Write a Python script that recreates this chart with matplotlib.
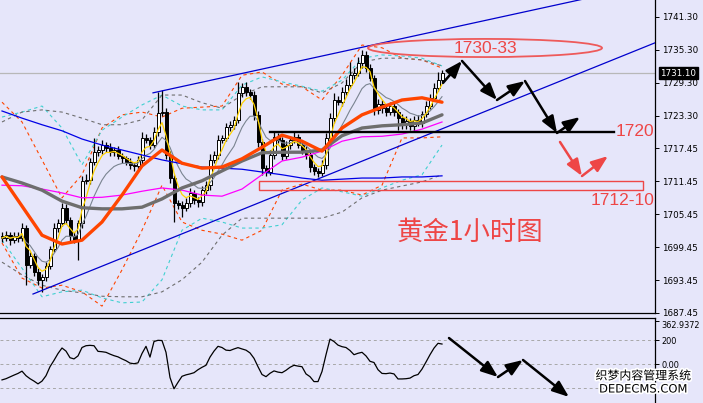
import matplotlib
matplotlib.use("Agg")
import matplotlib.pyplot as plt
import matplotlib.patches as mpatches
import matplotlib.patheffects as pe
import matplotlib.transforms as mtransforms
import numpy as np
import pandas as pd

plt.rcParams['font.family'] = ['DejaVu Sans', 'Noto Sans CJK SC']

# ---------------- data ----------------
first_open = 1701.5
close = [1701.1, 1701.6, 1700.7, 1701.5, 1701.1, 1702.9, 1696.2, 1697.8, 1694.9, 1693.5,
         1694.0, 1696.0, 1699.1, 1702.9, 1703.8, 1706.6, 1704.4, 1701.5, 1700.7, 1703.8,
         1711.5, 1711.6, 1714.9, 1716.7, 1717.1, 1718.0, 1717.5, 1716.7, 1717.1, 1716.0,
         1715.6, 1714.9, 1714.4, 1714.2, 1715.3, 1719.3, 1718.9, 1718.0, 1720.4, 1723.8,
         1724.0, 1716.2, 1712.0, 1707.5, 1707.1, 1706.6, 1707.5, 1709.3, 1708.0, 1707.6,
         1709.8, 1710.7, 1715.3, 1716.2, 1718.9, 1719.3, 1721.3, 1721.6, 1722.6, 1727.5,
         1728.6, 1727.6, 1727.1, 1723.5, 1718.6, 1713.8, 1713.1, 1716.2, 1719.5, 1718.9,
         1716.0, 1718.0, 1718.9, 1719.5, 1718.0, 1717.1, 1716.2, 1714.0, 1713.3, 1712.9,
         1714.4, 1719.3, 1722.9, 1726.2, 1725.8, 1727.6, 1728.9, 1730.7, 1731.1, 1732.9,
         1734.4, 1732.0, 1730.2, 1724.4, 1725.5, 1724.7, 1724.0, 1725.1, 1724.0, 1722.9,
         1721.8, 1722.4, 1721.5, 1722.6, 1722.0, 1723.6, 1725.1, 1726.6, 1728.4, 1729.8,
         1731.1]
wick_up = [0.6, 0.8, 0.5, 0.7, 0.6, 0.9, 0.5, 0.8, 0.6, 0.7,
           0.5, 0.8, 0.6, 0.9, 0.7, 0.8, 0.6, 0.5, 0.7, 0.6,
           0.9, 1.2, 0.8, 2.6, 0.7, 0.9, 0.6, 0.8, 0.5, 0.7,
           0.6, 0.5, 0.7, 0.6, 0.8, 1.0, 0.7, 0.6, 0.9, 3.8,
           4.0, 0.8, 0.7, 0.6, 0.5, 0.7, 0.8, 0.9, 0.6, 0.5,
           0.8, 0.7, 1.0, 0.8, 0.9, 0.6, 0.7, 0.8, 0.6, 2.0,
           0.7, 0.9, 0.6, 0.8, 0.7, 0.5, 0.6, 0.9, 1.1, 0.7,
           0.6, 0.8, 0.7, 0.9, 0.6, 0.5, 0.7, 0.6, 0.5, 0.6,
           0.8, 0.9, 1.0, 1.2, 0.8, 0.9, 1.1, 2.4, 0.9, 1.1,
           0.9, 0.7, 0.8, 0.6, 0.9, 0.7, 0.6, 0.8, 0.5, 0.6,
           0.7, 0.8, 0.6, 0.7, 0.8, 0.6, 0.9, 0.7, 0.8, 1.5,
           0.5]
wick_dn = [0.7, 0.6, 0.8, 0.5, 0.7, 0.6, 3.7, 0.6, 0.8, 1.0,
           2.2, 0.7, 0.6, 0.5, 0.8, 0.6, 0.7, 0.9, 0.6, 3.6,
           0.8, 0.6, 0.7, 0.5, 0.6, 0.7, 0.8, 0.6, 0.7, 0.5,
           0.8, 0.6, 0.7, 0.9, 0.6, 0.7, 0.5, 0.8, 0.6, 0.7,
           0.6, 0.8, 0.9, 3.5, 0.7, 1.7, 0.6, 0.8, 0.7, 0.9,
           0.6, 0.7, 0.8, 0.6, 0.7, 0.5, 0.6, 0.8, 0.7, 0.6,
           0.8, 0.6, 0.7, 0.9, 1.0, 1.2, 0.8, 0.6, 0.7, 0.5,
           0.8, 0.6, 0.7, 0.5, 0.6, 0.8, 0.7, 0.9, 0.8, 0.7,
           0.6, 0.7, 0.5, 0.8, 0.6, 0.7, 0.5, 0.6, 0.7, 0.6,
           0.8, 0.7, 0.6, 1.0, 0.8, 0.9, 0.7, 0.6, 0.8, 2.2,
           0.9, 0.8, 0.7, 0.9, 0.6, 0.7, 0.5, 0.6, 0.5, 0.6,
           0.4]

# moving averages / bands read every 5 bars (bar 0, 5, ..., 110)
ma_orange = [1712.2, 1706.9, 1701.6, 1700.0, 1700.7, 1704.0, 1708.9, 1714.2, 1717.1, 1714.7, 1713.8, 1714.0,
             1715.5, 1717.6, 1719.8, 1718.7, 1716.9, 1721.1, 1723.5, 1724.9, 1726.2, 1726.6, 1725.8]
ma_gray = [1712.2, 1711.1, 1709.8, 1707.8, 1706.6, 1706.4, 1706.4, 1706.7, 1708.2, 1710.2, 1711.5, 1713.3,
           1715.1, 1716.6, 1716.7, 1716.7, 1717.1, 1719.7, 1721.1, 1721.5, 1721.7, 1722.0, 1723.5]
ma_magenta = [1710.7, 1710.6, 1710.0, 1709.3, 1708.4, 1708.5, 1708.9, 1709.6, 1710.2, 1709.8, 1708.9, 1708.7,
              1710.0, 1712.6, 1715.1, 1715.8, 1716.9, 1718.7, 1719.5, 1719.6, 1720.0, 1720.9, 1722.2]
ma_blue = [1724.2, 1722.9, 1721.7, 1720.6, 1719.1, 1718.0, 1717.1, 1716.2, 1715.3, 1714.6, 1714.0, 1713.8,
           1713.6, 1713.1, 1712.6, 1712.0, 1711.6, 1711.8, 1712.0, 1712.0, 1712.2, 1712.2, 1712.4]
band_orange_up = [1725.8, 1722.2, 1715.3, 1708.4, 1712.6, 1721.1, 1723.5, 1724.0, 1723.1, 1724.7, 1724.9, 1725.1,
                  1730.7, 1731.3, 1729.1, 1728.6, 1726.2, 1730.7, 1736.2, 1735.7, 1733.8, 1733.5, 1732.0]
band_orange_dn = [1700.2, 1693.8, 1692.0, 1692.5, 1691.3, 1688.7, 1695.3, 1702.5, 1710.7, 1704.0, 1702.5, 1701.8,
                  1700.7, 1702.5, 1709.8, 1710.9, 1709.8, 1709.8, 1708.9, 1710.7, 1719.3, 1719.3, 1719.5]
band_cyan_up = [1723.1, 1724.0, 1725.1, 1721.1, 1714.4, 1720.7, 1723.1, 1725.3, 1727.1, 1725.1, 1724.4, 1724.4,
                1728.9, 1730.4, 1729.5, 1728.7, 1727.8, 1729.8, 1733.8, 1734.4, 1734.2, 1733.8, 1732.4]
band_cyan_dn = [1700.7, 1695.6, 1690.4, 1691.3, 1691.6, 1690.2, 1689.3, 1689.45, 1693.5, 1702.5, 1704.7, 1704.0,
                1702.9, 1702.9, 1703.5, 1708.0, 1710.2, 1709.5, 1708.7, 1710.2, 1711.6, 1712.6, 1718.0]
band_gray_up = [1722.2, 1724.0, 1724.4, 1724.0, 1722.9, 1721.7, 1721.7, 1722.6, 1727.1, 1727.1, 1725.7, 1724.7,
                1727.1, 1728.6, 1728.6, 1728.6, 1727.5, 1729.3, 1733.1, 1733.8, 1733.8, 1733.5, 1732.4]
band_gray_dn = [1696.7, 1694.4, 1692.5, 1691.6, 1691.1, 1690.5, 1690.4, 1690.4, 1691.3, 1693.5, 1696.7, 1701.6,
                1704.7, 1704.7, 1704.7, 1704.7, 1704.7, 1705.8, 1708.4, 1709.8, 1710.55, 1711.3, 1712.6]

cci = [-130, -120, -105, -90, -76, -57, -95, -120, -140, -163,
       -140, -95, -20, 33, 90, 136, 110, 55, 45, 70,
       140, 155, 158, 155, 108, 105, 100, 85, 72, 62,
       45, 30, 10, 5, 12, 90, 150, 60, 190, 200,
       198, 100, -110, -204, -150, -100, -88, -80, -70, -45,
       -25, -8, 60, 110, 150, 140, 118, 115, 128, 139,
       128, 118, 95, 50, -20, -85, -103, -75, -55, -65,
       -70, -50, -25, -8, -15, -20, -80, -103, -144, -144,
       -60, 80, 210, 190, 160, 147, 140, 115, 80, 92,
       100, 70, 25, 15, -45, -76, -78, -73, -80, -122,
       -122, -120, -115, -95, -85, -40, 19, 80, 135, 175,
       169]

price_ticks = [1741.30, 1735.30, 1729.30, 1723.30, 1717.45, 1711.45, 1705.45, 1699.45, 1693.45, 1687.45]
last_price = 1731.10
level_1720 = 1720.4
zone_1712 = (1709.8, 1711.5)
target_zone_center = (120.75, 1735.66)
channel_low = ([7.75, 163.25], [1690.9, 1736.6])
channel_high = ([37.75, 150.0], [1727.5, 1745.3])
black_path = [(110.25, 1729.3), (115.0, 1733.3), (123.75, 1726.2), (130.75, 1729.65),
              (138.75, 1720.2), (144.5, 1723.1)]
red_path = [(139.5, 1718.56), (145.0, 1712.37), (151.5, 1716.0)]
cci_path = [(111.75, 219), (124.0, -106), (130.25, 36), (141.75, -272)]

# ---------------- figure ----------------
BG = '#E6E6FA'
RED = '#EE4646'
fig = plt.figure(figsize=(7.03, 4.03), dpi=100, facecolor=BG)
ax = fig.add_axes([0, 90 / 403, 655 / 703, 313 / 403], facecolor=BG)
ax2 = fig.add_axes([0, 0, 655 / 703, 85 / 403], facecolor=BG)

n = len(close)
idx = np.arange(n)
c = np.array(close)
o = np.r_[first_open, c[:-1]]
hi = np.maximum(o, c) + np.array(wick_up)
lo = np.minimum(o, c) - np.array(wick_dn)
samp = np.arange(0, n, 5)

# current price line
ax.axhline(last_price, color='#B8B8B8', lw=0.9, zorder=1)

# bands
dash = (0, (3, 3))
for arr, col in [(band_orange_up, '#FF4500'), (band_orange_dn, '#FF4500'),
                 (band_cyan_up, '#40D0D0'), (band_cyan_dn, '#40D0D0'),
                 (band_gray_up, '#6E6E6E'), (band_gray_dn, '#6E6E6E')]:
    ax.plot(samp, arr, color=col, lw=0.8, ls=dash, zorder=2)

# candles
up = c >= o
ax.vlines(idx, lo, hi, color='black', lw=0.9, zorder=3)
body_bot = np.minimum(o, c)
body_h = np.maximum(np.abs(c - o), 0.12)
ax.bar(idx[up], body_h[up], bottom=body_bot[up], width=0.75, color='white',
       edgecolor='black', linewidth=0.7, zorder=4)
ax.bar(idx[~up], body_h[~up], bottom=body_bot[~up], width=0.75, color='black',
       edgecolor='black', linewidth=0.7, zorder=4)

# moving averages
s = pd.Series(c)
ax.plot(idx, s.ewm(span=10).mean(), color='#7A8490', lw=0.8, zorder=5)
ax.plot(idx, s.ewm(span=4).mean(), color='#FFD400', lw=0.9, zorder=5)
ax.plot(samp, ma_blue, color='#0000E6', lw=0.9, zorder=5)
ax.plot(samp, ma_magenta, color='#FF00FF', lw=0.9, zorder=5)
ax.plot(samp, ma_gray, color='#6E6E6E', lw=2.4, zorder=5, solid_capstyle='round')
ax.plot(samp, ma_orange, color='#FF4500', lw=2.4, zorder=5, solid_capstyle='round')

# channel lines
ax.plot(*channel_low, color='#0000CD', lw=0.9, zorder=6)
ax.plot(*channel_high, color='#0000CD', lw=0.9, zorder=6)

# 1720 level
ax.plot([67, 153], [level_1720, level_1720], color='black', lw=1.7, zorder=6)
ax.text(163.0, level_1720, '1720', color=RED, fontsize=12.5, ha='right', va='center',
        family='Liberation Sans', zorder=8)

# 1712-10 zone
ax.add_patch(mpatches.Rectangle((64.25, zone_1712[0]), 96.0, zone_1712[1] - zone_1712[0],
                                fill=False, edgecolor=RED, lw=1.0, zorder=6))
ax.text(163.0, 1707.9, '1712-10', color=RED, fontsize=12.5, ha='right', va='center',
        family='Liberation Sans', zorder=8)

# 1730-33 ellipse
ax.add_patch(mpatches.Ellipse(target_zone_center, 58.5, 3.3, fill=False,
                              edgecolor='#EE5A5A', lw=1.3, zorder=6))
ax.text(120.75, 1735.5, '1730-33', color=RED, fontsize=12.5, ha='center', va='center',
        family='Liberation Sans', zorder=8)

# arrows
def arrows(axis, path, color):
    for (x0, y0), (x1, y1) in zip(path[:-1], path[1:]):
        axis.annotate('', xy=(x1, y1), xytext=(x0, y0),
                      arrowprops=dict(arrowstyle='-|>,head_length=1.0,head_width=0.38',
                                      lw=1.8, color=color, shrinkA=0, shrinkB=0),
                      zorder=9)

arrows(ax, black_path, 'black')
arrows(ax, red_path, RED)

ax.text(117.0, 1702.2, '黄金1小时图', color=RED, fontsize=19, ha='center', va='center',
        family=['Noto Sans CJK SC', 'DejaVu Sans'], zorder=8)

ax.set_xlim(-0.5, 163.25)
ax.set_ylim(1687.45, 1744.39)
ax.set_yticks(price_ticks)
ax.set_yticklabels(['%.2f' % v for v in price_ticks])
ax.yaxis.tick_right()
ax.tick_params(axis='y', direction='out', length=3, width=0.7, labelsize=6.3, pad=2,
               colors='black')
ax.set_xticks([])
for sp in ['top', 'left']:
    ax.spines[sp].set_visible(False)
ax.spines['right'].set_linewidth(0.9)
ax.spines['bottom'].set_linewidth(0.9)

# current price box
trans = mtransforms.blended_transform_factory(ax.transAxes, ax.transData)
ax.text(1.008, last_price, '%.2f' % last_price, transform=trans, color='white', fontsize=6.3,
        ha='left', va='center', zorder=10,
        bbox=dict(boxstyle='square,pad=0.15', facecolor='black', edgecolor='black'))

# ---------------- CCI panel ----------------
for lv in (200, 0, -200):
    ax2.axhline(lv, color='#A8A8A8', lw=0.7, ls=dash)
ax2.plot(idx, cci, color='black', lw=0.9)
arrows(ax2, cci_path, 'black')
ax2.set_xlim(-0.5, 163.25)
ax2.set_ylim(-322.5, 386)
ax2.set_yticks([362.9372, 200, 0])
ax2.set_yticklabels(['362.9372', '200', '0.00'])
ax2.yaxis.tick_right()
ax2.tick_params(axis='y', direction='out', length=3, width=0.7, labelsize=5.9, pad=1.5)
ax2.get_yticklabels()[0].set_va('top')
ax2.set_xticks([])
for sp in ['bottom', 'left']:
    ax2.spines[sp].set_visible(False)
ax2.spines['right'].set_linewidth(0.9)
ax2.spines['top'].set_linewidth(0.9)

# watermark
stroke = [pe.withStroke(linewidth=2.5, foreground='white')]
fig.text(643 / 703, 1 - 376 / 403, '织梦内容管理系统', fontsize=8.6, ha='center', va='center',
         color='black', family=['Noto Sans CJK SC'], path_effects=stroke)
fig.text(643 / 703, 1 - 389 / 403, 'DEDECMS.COM', fontsize=8.3, ha='center', va='center',
         color='black', path_effects=stroke)

fig.savefig('out.png', dpi=100, facecolor=BG)
